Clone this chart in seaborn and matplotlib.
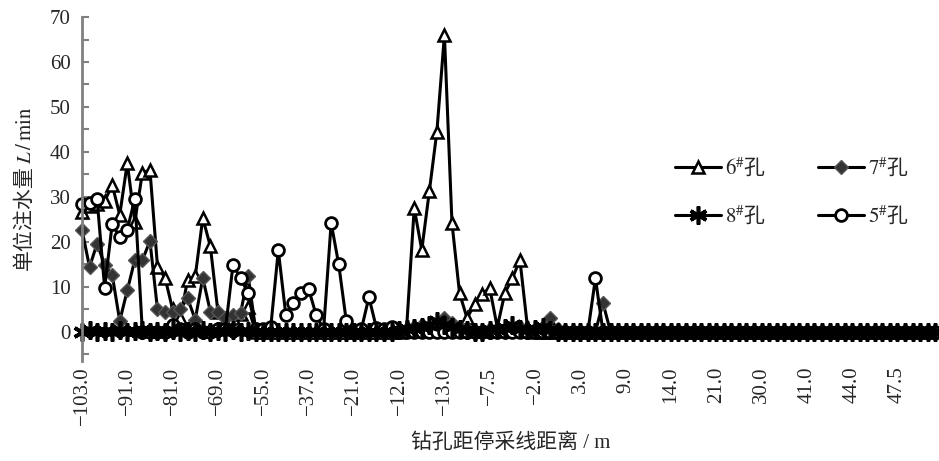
import numpy as np
import matplotlib
matplotlib.use('Agg')
import matplotlib.pyplot as plt
from matplotlib.ticker import MultipleLocator
import seaborn as sns

# x tick labels, one shown for every 6th measuring point
x_tick_labels = ['−103.0', '−91.0', '−81.0', '−69.0', '−55.0', '−37.0', '−21.0',
                 '−12.0', '−13.0', '−7.5', '−2.0', '3.0', '9.0', '14.0', '21.0',
                 '30.0', '41.0', '44.0', '47.5']
label_step = 6

# unit water injection (L/min) per borehole
hole6 = [26.7, 28.0, 28.5, 29.0, 32.7, 26.0, 37.5, 24.5, 35.3, 36.0,
         14.5, 12.0, 5.0, 3.0, 11.6, 12.3, 25.3, 19.0, 4.5, 2.5,
         3.0, 4.0, 5.5, 0.0, 0.0, 0.0, 0.0, 0.0, 0.0, 0.0,
         0.0, 0.0, 0.0, 0.0, 0.0, 0.0, 0.0, 0.0, 0.0, 0.0,
         0.0, 0.0, 0.0, 1.0, 27.5, 18.2, 31.2, 44.5, 66.0, 24.2,
         8.6, 3.0, 6.2, 8.4, 9.7, 1.0, 8.6, 11.9, 16.0, 1.0,
         0.0, 0.0, 0.0, 0.0, 0.0, 0.0, 0.0, 0.0, 0.0, 0.0,
         0.0, 0.0, 0.0, 0.0, 0.0, 0.0, 0.0, 0.0, 0.0, 0.0,
         0.0, 0.0, 0.0, 0.0, 0.0, 0.0, 0.0, 0.0, 0.0, 0.0,
         0.0, 0.0, 0.0, 0.0, 0.0, 0.0, 0.0, 0.0, 0.0, 0.0,
         0.0, 0.0, 0.0, 0.0, 0.0, 0.0, 0.0, 0.0, 0.0, 0.0,
         0.0, 0.0, 0.0, 0.0]
hole7 = [22.7, 14.4, 19.6, 14.9, 12.7, 2.4, 9.2, 16.0, 15.9, 20.2,
         5.0, 4.4, 4.5, 5.1, 7.4, 2.7, 12.0, 4.5, 4.5, 3.0,
         3.8, 4.1, 12.5, 0.5, 0.3, 0.0, 0.0, 0.0, 0.0, 0.0,
         0.0, 0.0, 0.0, 0.0, 0.0, 0.0, 0.0, 0.0, 0.0, 0.0,
         0.0, 0.0, 0.0, 0.5, 1.0, 1.5, 1.0, 2.0, 3.0, 2.0,
         1.0, 0.5, 0.0, 0.0, 0.5, 0.0, 0.0, 0.5, 1.0, 0.5,
         0.5, 1.0, 3.0, 0.5, 0.0, 0.0, 0.0, 0.0, 0.0, 6.4,
         0.0, 0.0, 0.0, 0.0, 0.0, 0.0, 0.0, 0.0, 0.0, 0.0,
         0.0, 0.0, 0.0, 0.0, 0.0, 0.0, 0.0, 0.0, 0.0, 0.0,
         0.0, 0.0, 0.0, 0.0, 0.0, 0.0, 0.0, 0.0, 0.0, 0.0,
         0.0, 0.0, 0.0, 0.0, 0.0, 0.0, 0.0, 0.0, 0.0, 0.0,
         0.0, 0.0, 0.0, 0.0]
hole8 = [0.0, 0.3, 0.0, 0.2, 0.0, 0.3, 0.0, 0.2, 0.4, 0.0,
         0.2, 0.0, 0.3, 0.0, 0.2, 0.0, 0.3, 0.0, 0.2, 0.0,
         0.3, 0.0, 0.2, 0.0, 0.0, 0.0, 0.0, 0.0, 0.0, 0.0,
         0.0, 0.0, 0.0, 0.0, 0.0, 0.0, 0.0, 0.0, 0.0, 0.0,
         0.0, 0.0, 0.3, 0.5, 0.8, 1.0, 1.5, 2.5, 1.5, 1.0,
         0.5, 0.3, 0.0, 0.0, 0.3, 0.5, 0.8, 1.5, 0.5, 0.3,
         0.5, 1.0, 0.3, 0.0, 0.0, 0.0, 0.0, 0.0, 0.0, 0.0,
         0.0, 0.0, 0.0, 0.0, 0.0, 0.0, 0.0, 0.0, 0.0, 0.0,
         0.0, 0.0, 0.0, 0.0, 0.0, 0.0, 0.0, 0.0, 0.0, 0.0,
         0.0, 0.0, 0.0, 0.0, 0.0, 0.0, 0.0, 0.0, 0.0, 0.0,
         0.0, 0.0, 0.0, 0.0, 0.0, 0.0, 0.0, 0.0, 0.0, 0.0,
         0.0, 0.0, 0.0, 0.0]
hole5 = [28.5, 28.7, 29.5, 9.8, 23.9, 21.1, 22.7, 29.6, 0.0, 0.0,
         0.0, 0.0, 1.5, 0.5, 0.0, 0.5, 0.0, 0.0, 0.5, 0.5,
         14.9, 11.9, 8.6, 0.5, 0.6, 1.0, 18.1, 3.7, 6.4, 8.6,
         9.6, 3.8, 0.5, 24.2, 15.0, 2.4, 0.0, 0.5, 7.7, 0.8,
         0.5, 1.0, 0.0, 0.0, 0.0, 0.0, 0.0, 0.0, 0.0, 0.0,
         0.0, 0.0, 0.0, 0.0, 0.0, 0.0, 0.0, 0.0, 0.0, 0.0,
         0.0, 0.0, 0.0, 0.0, 0.0, 0.0, 0.0, 0.0, 11.9, 0.0,
         0.0, 0.0, 0.0, 0.0, 0.0, 0.0, 0.0, 0.0, 0.0, 0.0,
         0.0, 0.0, 0.0, 0.0, 0.0, 0.0, 0.0, 0.0, 0.0, 0.0,
         0.0, 0.0, 0.0, 0.0, 0.0, 0.0, 0.0, 0.0, 0.0, 0.0,
         0.0, 0.0, 0.0, 0.0, 0.0, 0.0, 0.0, 0.0, 0.0, 0.0,
         0.0, 0.0, 0.0, 0.0]

sns.set_style('white')
plt.rcParams['font.family'] = ['Liberation Serif', 'Noto Sans CJK SC', 'DejaVu Sans']
plt.rcParams['mathtext.fontset'] = 'stix'

fig = plt.figure(figsize=(9.39, 4.61), dpi=100)
ax = fig.add_axes([0.0873, 0.217, 0.9127, 0.746])

idx = np.arange(len(hole6))

# legend order is 6#, 7#, 8#, 5#; draw 8# last so the stars sit on top at zero
series = [
    ('$6^{\\#}$孔', hole6, dict(marker='^', markersize=9, markerfacecolor='white',
                               markeredgecolor='black', markeredgewidth=1.8)),
    ('$7^{\\#}$孔', hole7, dict(marker='D', markersize=7, markerfacecolor='#333333',
                               markeredgecolor='#555555', markeredgewidth=1.0)),
    ('$8^{\\#}$孔', hole8, dict(marker=(6, 2, 0), markersize=13, markerfacecolor='black',
                               markeredgecolor='black', markeredgewidth=2.6)),
    ('$5^{\\#}$孔', hole5, dict(marker='o', markersize=8.5, markerfacecolor='white',
                               markeredgecolor='black', markeredgewidth=2.0)),
]
draw_order = [0, 1, 3, 2]

lines = {}
for k in draw_order:
    name, vals, mstyle = series[k]
    sns.lineplot(x=idx, y=vals, ax=ax, color='black', linewidth=2.2,
                 label=name, clip_on=False, **mstyle)
    lines[k] = ax.get_lines()[-1]

ax.set_xlim(0, 113.5)
ax.set_ylim(-6.5, 70)
ax.set_xticks(idx[::label_step])
ax.set_xticklabels(x_tick_labels, rotation=90, fontsize=15)
ax.tick_params(axis='x', length=0, pad=4)
ax.yaxis.set_major_locator(MultipleLocator(10))
ax.yaxis.set_minor_locator(MultipleLocator(5))
ax.set_yticks(np.arange(0, 71, 10))
ax.tick_params(axis='y', which='both', direction='in', length=5, width=1.5,
               color='#808080', left=True, labelsize=15, pad=8)

for side in ['top', 'right', 'bottom']:
    ax.spines[side].set_visible(False)
ax.spines['left'].set_color('#808080')
ax.spines['left'].set_linewidth(2)

ax.set_xlabel('钻孔距停采线距离 / m', fontsize=15, labelpad=6)
ax.set_ylabel('单位注水量 $L\\,/\\,\\mathrm{min}$', fontsize=15, labelpad=10,
              family='Noto Sans CJK SC')

# two legend columns: (6#, 8#) and (7#, 5#)
order = [0, 2, 1, 3]
ax.legend([lines[i] for i in order], [series[i][0] for i in order], ncol=2,
          loc='upper left', bbox_to_anchor=(0.67, 0.65), frameon=False,
          prop={'family': 'Noto Sans CJK SC', 'size': 15},
          handlelength=2.2, labelspacing=1.2, columnspacing=2.5,
          handletextpad=0.2)

fig.savefig('out.png', dpi=100)
